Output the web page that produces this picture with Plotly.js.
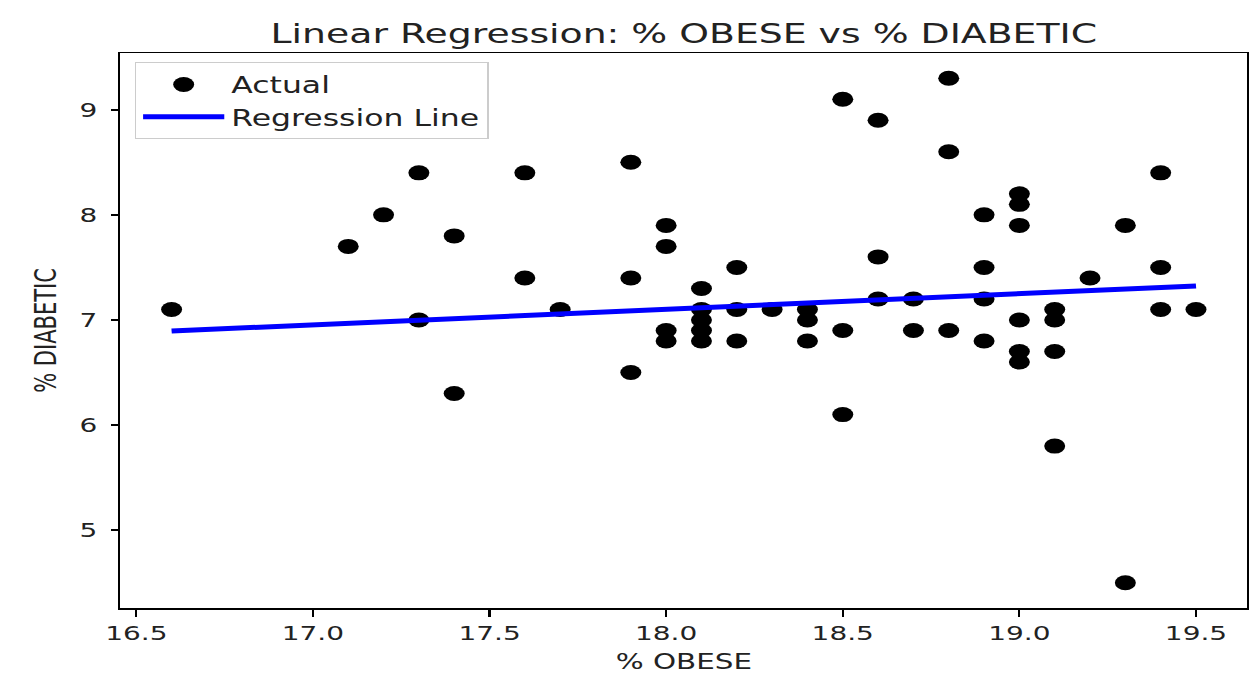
<!DOCTYPE html>
<html>
<head>
<meta charset="utf-8">
<script src="https://cdn.plot.ly/plotly-3.0.1.min.js"></script>
<style>
  html, body { margin: 0; padding: 0; background: #ffffff; overflow: hidden; width: 1250px; height: 683px; }
  #edge { position: absolute; left: 6px; top: 5px; width: 2px; height: 678px; background: #111; }
  #wrap { position: absolute; left: 0; top: 0; width: 893px; height: 683px; transform: scaleX(1.3998); transform-origin: 0 0; }
</style>
</head>
<body>
<div id="edge"></div>
<div id="wrap"><div id="chart"></div></div>
<script>
// % OBESE (x) and % DIABETIC (y) values
const obese = [
  16.6, 17.1, 17.2, 17.3, 17.3, 17.4, 17.4, 17.6, 17.6, 17.7,
  17.9, 17.9, 17.9, 18.0, 18.0, 18.0, 18.0,
  18.1, 18.1, 18.1, 18.1, 18.1, 18.2, 18.2, 18.2, 18.3,
  18.4, 18.4, 18.4, 18.5, 18.5, 18.5, 18.6, 18.6, 18.6,
  18.7, 18.7, 18.8, 18.8, 18.8, 18.9, 18.9, 18.9, 18.9,
  19.0, 19.0, 19.0, 19.0, 19.0, 19.0,
  19.1, 19.1, 19.1, 19.1, 19.2, 19.3, 19.3, 19.4, 19.4, 19.4, 19.5
];
const diabetic = [
  7.1, 7.7, 8.0, 8.4, 7.0, 7.8, 6.3, 8.4, 7.4, 7.1,
  8.5, 7.4, 6.5, 7.9, 7.7, 6.9, 6.8,
  7.3, 7.1, 7.0, 6.9, 6.8, 7.5, 7.1, 6.8, 7.1,
  7.1, 7.0, 6.8, 9.1, 6.9, 6.1, 8.9, 7.6, 7.2,
  7.2, 6.9, 9.3, 8.6, 6.9, 8.0, 7.5, 7.2, 6.8,
  8.2, 8.1, 7.9, 7.0, 6.7, 6.6,
  7.1, 7.0, 6.7, 5.8, 7.4, 7.9, 4.5, 8.4, 7.5, 7.1, 7.1
];
// Regression line end points
const regX = [16.6, 19.5];
const regY = [6.895, 7.324];

const titleText = 'Linear Regression: % OBESE vs % DIABETIC';
const xLabel = '% OBESE';
const yLabel = '% DIABETIC';
const seriesNames = ['Actual', 'Regression Line'];

const FONT = 'DejaVu Sans, Verdana, sans-serif';

const traces = [
  {
    type: 'scatter', mode: 'markers', name: seriesNames[0],
    x: obese, y: diabetic,
    marker: { color: '#000000', size: 15, line: { width: 0 } },
    hoverinfo: 'skip'
  },
  {
    type: 'scatter', mode: 'lines', name: seriesNames[1],
    x: regX, y: regY,
    line: { color: '#0000ff', width: 5 },
    hoverinfo: 'skip'
  }
];

const axisCommon = {
  showline: true, linecolor: '#000000', linewidth: 1.5, mirror: true,
  showgrid: false, zeroline: false,
  ticks: 'outside', tickcolor: '#000000', tickwidth: 1.5,
  tickfont: { family: FONT, size: 20, color: '#222222' }
};

const layout = {
  width: 893, height: 683,
  margin: { l: 86, r: 2, t: 53, b: 75 },
  paper_bgcolor: '#ffffff', plot_bgcolor: '#ffffff',
  font: { family: FONT, color: '#222222' },
  title: {
    text: titleText,
    font: { family: FONT, size: 27, color: '#222222' },
    x: 0.5, xref: 'paper', xanchor: 'center',
    y: 0.951, yref: 'container', yanchor: 'middle'
  },
  xaxis: Object.assign({}, axisCommon, {
    range: [16.455, 19.645], tick0: 16.5, dtick: 0.5, tickformat: '.1f',
    ticklen: 7,
    title: { text: xLabel, font: { family: FONT, size: 21, color: '#222222' }, standoff: 10 }
  }),
  yaxis: Object.assign({}, axisCommon, {
    range: [4.26, 9.54], tick0: 5, dtick: 1,
    ticklen: 5, ticklabelstandoff: 6,
    title: { text: yLabel, font: { family: FONT, size: 21, color: '#222222' }, standoff: 10 }
  }),
  showlegend: true,
  legend: {
    x: 0.0127, y: 0.983, xanchor: 'left', yanchor: 'top',
    bgcolor: 'rgba(255,255,255,0.8)', bordercolor: '#cccccc', borderwidth: 1,
    font: { family: FONT, size: 22.5, color: '#222222' },
    itemwidth: 58
  }
};

Plotly.newPlot('chart', traces, layout, { displayModeBar: false, staticPlot: true });
</script>
</body>
</html>
